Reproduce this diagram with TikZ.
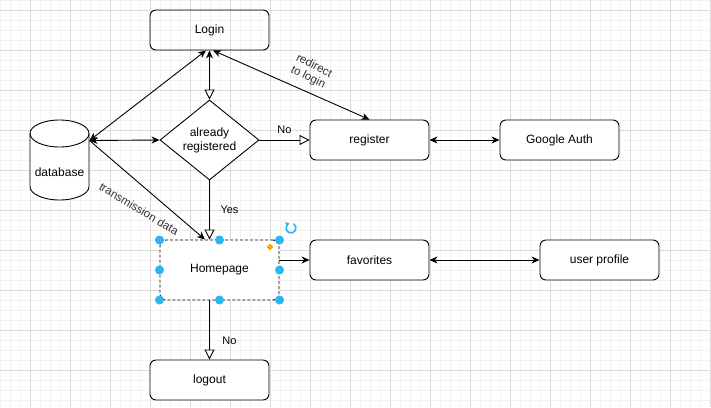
\documentclass[tikz,border=0pt]{standalone}
\usepackage{fontspec}
\setmainfont{Liberation Sans}
\usetikzlibrary{arrows.meta,shapes.geometric,calc}
\definecolor{minorg}{HTML}{F2F2F2}
\definecolor{majorg}{HTML}{DADADA}
\definecolor{selblue}{HTML}{29B6F2}
\definecolor{selorange}{HTML}{FFA500}
\definecolor{lblgray}{HTML}{333333}
\tikzset{
  box/.style={draw, rounded corners=6pt, minimum width=119pt, minimum height=40pt, line width=0.9pt, inner sep=0pt, font=\fontsize{12}{14}\selectfont},
  decision/.style={draw, diamond, minimum width=99pt, minimum height=80pt, inner sep=0pt, line width=0.9pt},
  conn/.style={line width=0.9pt},
  fillhead/.style={conn},
  both/.style={conn, {Stealth[length=8pt,width=7pt,inset=2.5pt]}-{Stealth[length=8pt,width=7pt,inset=2.5pt]}},
  onehead/.style={conn, -{Stealth[length=8pt,width=7pt,inset=2.5pt]}},
  openhead/.style={conn, -{Triangle[open,length=10pt,width=10pt,fill=white]}},
  lbl/.style={font=\fontsize{11}{13}\selectfont, inner sep=0pt},
  rlbl/.style={font=\fontsize{11.5}{13}\selectfont, text=lblgray, inner sep=0pt, align=center},
  handle/.style={circle, fill=selblue, inner sep=0pt, minimum size=9pt},
}
\begin{document}
\begin{tikzpicture}[x=1pt,y=-1pt]
\useasboundingbox (0,0) rectangle (711,407);
\fill[white] (0,0) rectangle (711,407);
% grid
\foreach \x in {0,10,...,710} \draw[minorg, line width=0.6pt] (\x,0) -- (\x,407);
\foreach \y in {0,10,...,400} \draw[minorg, line width=0.6pt] (0,\y) -- (711,\y);
\foreach \x in {30,70,...,710} \draw[majorg, line width=0.6pt] (\x,0) -- (\x,407);
\foreach \y in {10,50,...,400} \draw[majorg, line width=0.6pt] (0,\y) -- (711,\y);

% nodes
\node[box] (login) at (209.5,30) {Login};
\node[decision, fill=white] (reg) at (209.5,140) {};
\node[font=\fontsize{12}{14}\selectfont, align=center, inner sep=0pt] (regtext) at (209.5,140) {already\\registered};
\node[box, fill=white] (register) at (369.5,140) {register};
\node[box, fill=white] (google) at (559.5,140) {Google Auth};
\node[box, fill=white, minimum height=60pt, dash pattern=on 3pt off 2pt] (home) at (219.5,270) {Homepage};
\node[box, fill=white] (fav) at (369.5,260) {favorites};
\node[box, fill=white] (profile) at (599.5,260) {user profile};
\node[box, fill=white] (logout) at (209.5,380) {logout};

% database cylinder
\node[minimum width=59pt, minimum height=80pt, inner sep=0pt] (db) at (59.5,160) {};
\fill[white] (30,133.5) -- (30,186.5) arc[start angle=180, end angle=360, x radius=29.5pt, y radius=13.5pt] -- (89,133.5) arc[start angle=0, end angle=180, x radius=29.5pt, y radius=13.5pt];
\draw[line width=0.9pt] (59.5,133.5) ellipse [x radius=29.5pt, y radius=13.5pt];
\draw[line width=0.9pt] (30,133.5) -- (30,186.5) arc[start angle=180, end angle=360, x radius=29.5pt, y radius=13.5pt] -- (89,133.5);
\node[font=\fontsize{12}{14}\selectfont, inner sep=0pt] (dbtext) at (59.5,172) {database};
\coordinate (dbport) at (89.5,140.5);

% connectors
\draw[both] (dbport) -- ([xshift=-3.5pt]login.south);
\draw[both] (dbport) -- (reg.west);
\draw[onehead] (dbport) -- ([xshift=-14.5pt]home.north);
\node[rlbl, rotate=-31] (tdlbl) at (139,209) {transmission data};
\draw[both] (register.north) -- ([xshift=3.5pt]login.south);
\node[rlbl, rotate=-27] (rdlbl) at (311,72) {redirect\\to login};
\draw[conn, {Stealth[length=8pt,width=7pt,inset=2.5pt]}-{Triangle[open,length=10pt,width=10pt,fill=white]}] (login.south) -- (reg.north);
\draw[openhead] (reg.east) -- (register.west);
\node[lbl] (no1) at (284.5,130) {No};
\draw[openhead] (reg.south) -- (reg.south |- home.north);
\node[lbl] (yes) at (229.5,209.5) {Yes};
\draw[both] (register.east) -- (google.west);
\draw[onehead] (home.east |- fav.west) -- (fav.west);
\draw[both] (fav.east) -- (profile.west);
\draw[openhead] (home.south -| logout.north) -- (logout.north);
\node[lbl] (no2) at (229.5,340.5) {No};

% selection handles
\foreach \hx/\hy [count=\i] in {159.5/240,219.5/240,279.5/240,159.5/270,279.5/270,159.5/300,219.5/300,279.5/300}
  \node[handle] (h\i) at (\hx,\hy) {};
\node[diamond, fill=selorange, inner sep=0pt, minimum size=7pt] (hor) at (270,247) {};
\draw[selblue, line width=1.6pt, -{Triangle[length=3.5pt,width=5pt]}] ($(291,228)+(60:5pt)$) arc[start angle=60, end angle=-250, radius=5pt];
\end{tikzpicture}
\end{document}
